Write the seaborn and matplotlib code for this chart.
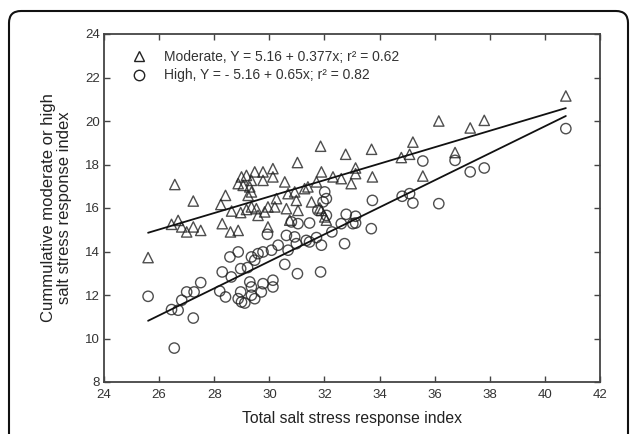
import numpy as np
import pandas as pd
import matplotlib
matplotlib.use("Agg")
import matplotlib.pyplot as plt
import matplotlib.patches as mpatches
import matplotlib.transforms as mtransforms
from matplotlib.lines import Line2D
import seaborn as sns

# Moderate salt stress (triangles)
moderate_x = [25.6, 26.57, 27.24, 28.41, 28.24, 28.63, 28.96, 29.17, 29.35, 28.29,
              28.59, 28.87, 26.45, 26.69, 26.82, 27.0, 27.24, 27.51, 28.99, 29.17,
              28.87, 29.05, 29.29, 29.35, 29.35, 31.86, 32.77, 31.02, 31.89, 30.56,
              29.47, 29.77, 30.13, 30.13, 29.77, 29.23, 32.31, 32.61, 32.97, 31.71,
              31.40, 31.28, 30.92, 30.68, 30.98, 30.26, 30.20, 29.95, 30.62, 31.04,
              31.53, 32.01, 31.89, 31.83, 29.53, 29.59, 29.83, 29.95, 30.74, 32.07,
              40.76, 36.15, 37.29, 37.8, 35.21, 33.71, 34.79, 35.09, 36.74, 33.13,
              33.13, 33.74, 35.57]
moderate_y = [13.72, 17.08, 16.32, 16.58, 16.16, 15.86, 15.79, 15.93, 16.05, 15.28,
              14.90, 14.97, 15.25, 15.43, 15.13, 14.90, 15.13, 14.97, 17.43, 17.5,
              17.12, 17.04, 16.97, 17.27, 16.74, 18.84, 18.47, 18.09, 17.66, 17.20,
              17.66, 17.66, 17.81, 17.43, 17.27, 16.58, 17.43, 17.35, 17.12, 17.2,
              16.97, 16.89, 16.74, 16.66, 16.35, 16.43, 16.05, 16.05, 15.97, 15.89,
              16.28, 15.59, 15.89, 16.0, 15.97, 15.66, 15.82, 15.13, 15.44, 15.44,
              21.15, 20.0, 19.68, 20.03, 19.03, 18.70, 18.32, 18.47, 18.55, 17.84,
              17.58, 17.43, 17.47]

# High salt stress (circles)
high_x = [25.6, 26.55, 27.24, 26.45, 26.69, 26.82, 27.0, 27.27, 27.51, 28.29,
          28.57, 28.87, 28.62, 28.20, 28.41, 28.96, 29.21, 29.29, 29.35, 28.96,
          28.87, 28.99, 29.11, 29.35, 29.93, 30.80, 31.04, 31.46, 32.79, 32.61,
          33.03, 32.27, 31.71, 31.46, 31.34, 31.89, 32.73, 30.62, 30.92, 30.98,
          30.68, 30.32, 30.08, 29.77, 29.59, 29.35, 29.47, 30.56, 31.02, 31.86,
          29.77, 30.13, 30.13, 29.71, 29.47, 32.01, 32.07, 31.95, 31.76, 32.07,
          40.76, 35.57, 36.74, 37.29, 37.8, 33.74, 34.82, 35.09, 35.21, 36.15,
          33.13, 33.13, 33.70]
high_y = [11.94, 9.56, 10.94, 11.33, 11.30, 11.76, 12.14, 12.14, 12.57, 13.06,
          13.75, 13.98, 12.83, 12.18, 11.91, 13.21, 13.26, 12.60, 12.37, 12.14,
          11.83, 11.68, 11.63, 11.99, 14.79, 15.36, 15.28, 15.31, 15.71, 15.28,
          15.28, 14.90, 14.64, 14.44, 14.51, 14.29, 14.36, 14.74, 14.67, 14.36,
          14.06, 14.29, 14.06, 13.98, 13.90, 13.75, 13.60, 13.41, 12.98, 13.06,
          12.52, 12.68, 12.37, 12.14, 11.83, 16.74, 16.43, 16.28, 15.89, 15.66,
          19.65, 18.16, 18.19, 17.66, 17.84, 16.35, 16.54, 16.66, 16.23, 16.2,
          15.62, 15.31, 15.05]

legend_labels = ["Moderate, Y = 5.16 + 0.377x; r\u00b2 = 0.62",
                 "High, Y = - 5.16 + 0.65x; r\u00b2 = 0.82"]

mod_df = pd.DataFrame({"x": moderate_x, "y": moderate_y})
high_df = pd.DataFrame({"x": high_x, "y": high_y})

sns.set_style("ticks")
plt.rcParams["font.family"] = ["Liberation Sans", "DejaVu Sans"]

fig = plt.figure(figsize=(6.3, 4.34), dpi=100)
ax = fig.add_axes([104 / 630, 1 - 382 / 434, 496 / 630, 348 / 434])

mk = dict(s=55, facecolors="none", edgecolors="#222222", linewidths=1.0)
sns.regplot(data=mod_df, x="x", y="y", ax=ax, ci=None, marker="^",
            scatter_kws=mk, line_kws=dict(color="#111111", lw=1.3))
sns.regplot(data=high_df, x="x", y="y", ax=ax, ci=None, marker="o",
            scatter_kws=mk, line_kws=dict(color="#111111", lw=1.3))

ax.set_xlim(24, 42)
ax.set_ylim(8, 24)
ax.set_xticks(np.arange(24, 43, 2))
ax.set_yticks(np.arange(8, 25, 2))
ax.tick_params(direction="in", length=4, width=1, colors="#444444",
               labelsize=9.5, top=True, right=True, labeltop=False, labelright=False,
               labelcolor="#333333")
ax.tick_params(axis="x", pad=5)
ax.tick_params(axis="y", pad=3)
for sp in ax.spines.values():
    sp.set_visible(True)
    sp.set_color("#444444")
    sp.set_linewidth(1.3)

ax.set_xlabel("Total salt stress response index", fontsize=11.3, color="#222222", labelpad=7)
ax.set_ylabel("Cummulative moderate or high\nsalt stress response index",
              fontsize=12, color="#222222", labelpad=9, linespacing=1.1)

handles = [Line2D([], [], ls="none", marker="^", mfc="none", mec="#222222", ms=7.5, mew=1.0),
           Line2D([], [], ls="none", marker="o", mfc="none", mec="#222222", ms=7.5, mew=1.0)]
ax.legend(handles, legend_labels, loc="upper left", frameon=False, fontsize=10,
          handletextpad=0.8, labelspacing=0.3, borderaxespad=0.4,
          bbox_to_anchor=(0.02, 0.985), labelcolor="#333333")

# rounded outer frame
frame = mpatches.FancyBboxPatch((9, -20), 619, 443,
                                boxstyle="round,pad=0,rounding_size=12",
                                transform=mtransforms.IdentityTransform(),
                                fill=False, edgecolor="#111111", linewidth=1.5)
fig.add_artist(frame)

fig.savefig("out.png", dpi=100)
